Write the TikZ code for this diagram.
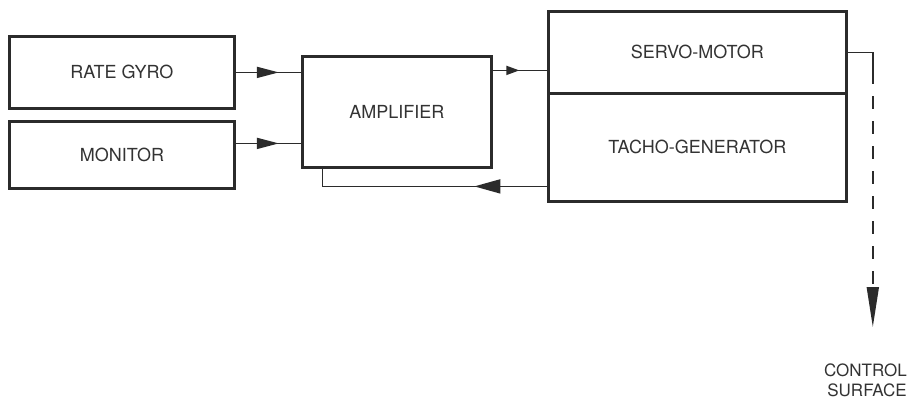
\documentclass[tikz,border=0pt]{standalone}
\usepackage{fontspec}
\setmainfont{TeX Gyre Heros}
\usetikzlibrary{arrows.meta,decorations.markings}
\definecolor{ink}{HTML}{2b2b2b}
\definecolor{txt}{HTML}{333333}
\begin{document}
\begin{tikzpicture}[x=1pt,y=-1pt,
  blk/.style={draw=ink, line width=2.8pt, text=txt, font=\fontsize{18}{21}\selectfont,
              inner sep=0pt, anchor=north west},
  conn/.style={draw=ink, line width=1.7pt},
  midarrow/.style n args={3}{postaction={decorate},
     decoration={markings, mark=at position #1 with {\arrow[ink]{Triangle[length=#2,width=#3]}}}},
  lbl/.style={text=txt, font=\fontsize{17}{20}\selectfont, inner sep=0pt}
]
\path[use as bounding box, fill=white] (0,0) rectangle (909,399);

% blocks
\node[blk, minimum width=225pt, minimum height=72pt] (rg) at (8,35) {RATE GYRO};
\node[blk, minimum width=225pt, minimum height=67pt] (mon) at (8,120) {MONITOR};
\node[blk, minimum width=189pt, minimum height=111pt] (amp) at (301,55) {AMPLIFIER};
\node[blk, minimum width=298pt, minimum height=82pt] (servo) at (547,10) {SERVO-MOTOR};
\node[blk, minimum width=298pt, minimum height=108pt] (tacho) at (547,92) {TACHO-GENERATOR};
\node[lbl, align=right, anchor=north east] (cs) at (907,364) {CONTROL\\SURFACE};

% helper coordinates
\coordinate (monout) at ([yshift=11.5pt]mon.east);
\coordinate (sin) at ([yshift=-18pt]servo.west);
\coordinate (fb) at ([yshift=-39pt]tacho.west);
\coordinate (fbx) at ([xshift=-74.5pt]amp.south);
\coordinate (corner) at ([xshift=25pt]servo.east);
\coordinate (dstart) at ([yshift=-19pt]corner);
\coordinate (tip) at (corner |- 0,327);

% connectors
\draw[conn, midarrow={0.66}{22pt}{11pt}] (rg.east) -- (rg.east -| amp.west);
\draw[conn, midarrow={0.66}{22pt}{11pt}] (monout) -- (monout -| amp.west);
\draw[conn, midarrow={0.49}{13pt}{9pt}] (sin -| amp.east) -- (sin);
\draw[conn, midarrow={0.30}{26pt}{14pt}] (fb) -- (fb -| fbx) -- (fbx |- amp.south);
\draw[conn] (servo.east) -- (corner) -- (dstart);
\draw[conn, dash pattern=on 13pt off 12pt, -{Triangle[length=40pt,width=12pt]}] (dstart) -- (tip);
\end{tikzpicture}
\end{document}
